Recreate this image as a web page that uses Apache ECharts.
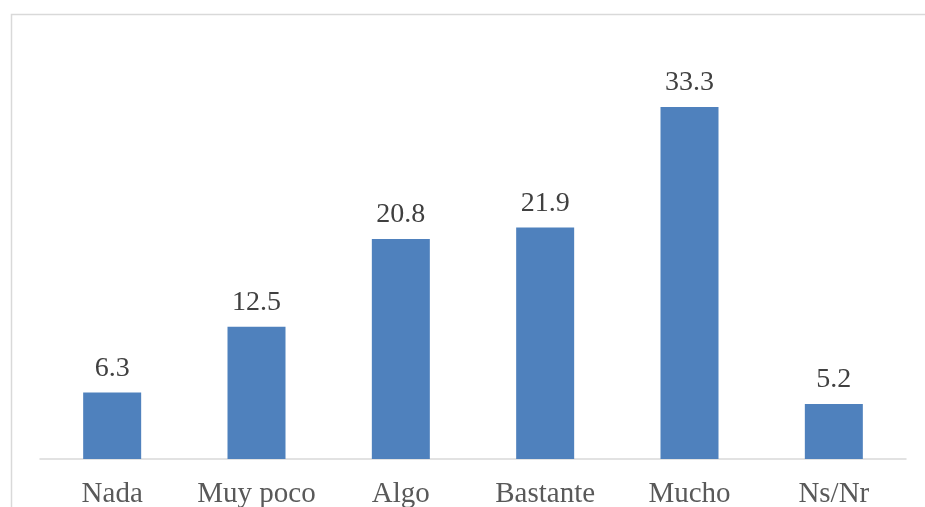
<!DOCTYPE html>
<html>
<head>
<meta charset="utf-8">
<script src="https://cdn.jsdelivr.net/npm/echarts@6/dist/echarts.min.js"></script>
<style>
  html, body { margin: 0; padding: 0; background: #fff; }
  #chart { width: 925px; height: 507px; }
</style>
</head>
<body>
<div id="chart"></div>
<script>
var categories = ["Nada", "Muy poco", "Algo", "Bastante", "Mucho", "Ns/Nr"];
var values = [6.3, 12.5, 20.8, 21.9, 33.3, 5.2];

var myChart = echarts.init(document.getElementById("chart"));
var font = '"Liberation Serif", "Times New Roman", serif';

var option = {
  animation: false,
  backgroundColor: "#fff",
  // light frame of the chart area, cut off at right and bottom
  graphic: [
    {
      type: "rect",
      shape: { x: 11.5, y: 14.5, width: 1000, height: 1000 },
      style: { fill: "none", stroke: "#d9d9d9", lineWidth: 1.5 },
      silent: true
    }
  ],
  grid: {
    left: 40,
    right: 19,
    top: 89,
    bottom: 48,
    containLabel: false,
    outerBoundsMode: "none"
  },
  xAxis: {
    type: "category",
    data: categories,
    axisLine: { lineStyle: { color: "#d9d9d9", width: 1.5 } },
    axisTick: { show: false },
    axisLabel: {
      color: "#595959",
      fontFamily: font,
      fontSize: 29,
      margin: 21,
      interval: 0
    }
  },
  yAxis: {
    type: "value",
    min: 0,
    max: 35,
    show: false,
    splitLine: { show: false }
  },
  series: [
    {
      type: "bar",
      data: values,
      barWidth: 58,
      itemStyle: { color: "#4f81bd" },
      label: {
        show: true,
        position: "top",
        distance: 10,
        color: "#404040",
        fontFamily: font,
        fontSize: 28
      }
    }
  ]
};

myChart.setOption(option);
</script>
</body>
</html>
